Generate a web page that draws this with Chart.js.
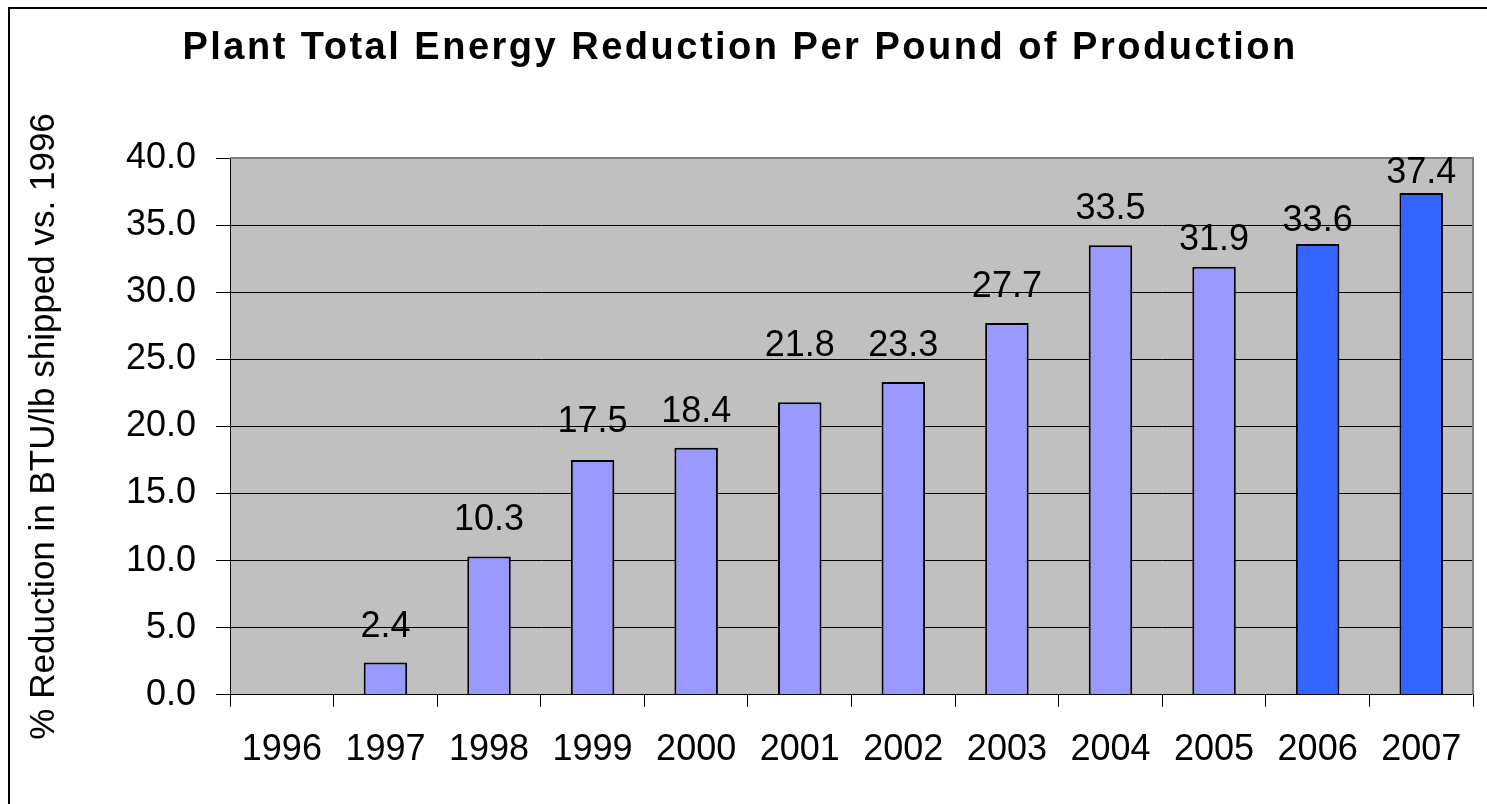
<!DOCTYPE html>
<html>
<head>
<meta charset="utf-8">
<script src="https://cdn.jsdelivr.net/npm/chart.js@4"></script>
<style>
  body { margin: 0; background: #fff; }
  canvas { display: block; }
</style>
</head>
<body>
<canvas id="energyChart" width="1487" height="804"></canvas>
<script>
const years = ["1996", "1997", "1998", "1999", "2000", "2001", "2002", "2003", "2004", "2005", "2006", "2007"];
const reduction = [0, 2.4, 10.3, 17.5, 18.4, 21.8, 23.3, 27.7, 33.5, 31.9, 33.6, 37.4];
const yTicks = [0, 5, 10, 15, 20, 25, 30, 35, 40];
const titleText = "Plant Total Energy Reduction Per Pound of Production";
const yTitle = "% Reduction in BTU/lb shipped vs. 1996";

const FONT = "'Liberation Sans', Arial, sans-serif";

const barColors = years.map((y) => (y === "2006" || y === "2007" ? "#3366FF" : "#9999FF"));

// gap between bar top and label bottom, as placed in the original
const labelGaps = [24, 24, 24, 26, 24, 44, 24, 24, 24, 15, 11, 8];

const framePlugin = {
  id: "frame",
  beforeDraw(chart) {
    const { ctx, chartArea: a } = chart;
    ctx.save();
    ctx.fillStyle = "#C0C0C0";
    ctx.fillRect(a.left, a.top, a.right - a.left, a.bottom - a.top);
    // outer frame (left and top visible)
    ctx.strokeStyle = "#000";
    ctx.lineWidth = 2;
    ctx.beginPath();
    ctx.moveTo(9, chart.height);
    ctx.lineTo(9, 8);
    ctx.lineTo(chart.width, 8);
    ctx.stroke();
    // title
    ctx.fillStyle = "#000";
    ctx.font = "bold 38px " + FONT;
    ctx.letterSpacing = "2.5px";
    ctx.textAlign = "center";
    ctx.textBaseline = "middle";
    ctx.fillText(titleText, 740, 49);
    ctx.restore();
  },
  afterDatasetsDraw(chart) {
    const { ctx, chartArea: a } = chart;
    ctx.save();
    ctx.strokeStyle = "#808080";
    ctx.lineWidth = 2;
    ctx.beginPath();
    ctx.moveTo(a.left, a.top);
    ctx.lineTo(a.right, a.top);
    ctx.lineTo(a.right, a.bottom);
    ctx.stroke();
    ctx.restore();
  },
};

const valueLabels = {
  id: "valueLabels",
  afterDatasetsDraw(chart) {
    const { ctx } = chart;
    const meta = chart.getDatasetMeta(0);
    ctx.save();
    ctx.fillStyle = "#000";
    ctx.font = "36px " + FONT;
    ctx.textAlign = "center";
    ctx.textBaseline = "bottom";
    meta.data.forEach((bar, i) => {
      const v = reduction[i];
      if (!v) return;
      ctx.fillText(v.toFixed(1), bar.x, bar.y - labelGaps[i] + 6);
    });
    ctx.restore();
  },
};

const canvas = document.getElementById("energyChart");

new Chart(canvas, {
  type: "bar",
  data: {
    labels: years,
    datasets: [
      {
        data: reduction,
        backgroundColor: barColors,
        borderColor: "#000",
        borderWidth: 2,
        borderSkipped: "bottom",
        categoryPercentage: 1,
        barPercentage: 0.42,
      },
    ],
  },
  options: {
    responsive: false,
    animation: false,
    layout: { padding: { left: 23, top: 158, right: 14, bottom: 10 } },
    plugins: {
      legend: { display: false },
      tooltip: { enabled: false },
    },
    scales: {
      x: {
        offset: true,
        grid: {
          offset: true,
          drawOnChartArea: false,
          color: "#000",
          tickLength: 12,
          tickColor: "#000",
        },
        border: { color: "#000", width: 1 },
        ticks: {
          color: "#000",
          font: { family: FONT, size: 36 },
          padding: 22,
          maxRotation: 0,
          autoSkip: false,
        },
      },
      y: {
        min: 0,
        max: 40,
        afterBuildTicks(axis) {
          axis.ticks = yTicks.map((v) => ({ value: v }));
        },
        grid: {
          color: "#000",
          lineWidth: 1,
          tickLength: 14,
          tickColor: "#000",
        },
        border: { color: "#000", width: 1 },
        ticks: {
          color: "#000",
          font: { family: FONT, size: 36 },
          padding: 20,
          callback: (v) => v.toFixed(1),
        },
        title: {
          display: true,
          text: yTitle,
          color: "#000",
          font: { family: FONT, size: 35 },
          padding: { top: 0, bottom: 41 },
        },
      },
    },
  },
  plugins: [framePlugin, valueLabels],
});
</script>
</body>
</html>
